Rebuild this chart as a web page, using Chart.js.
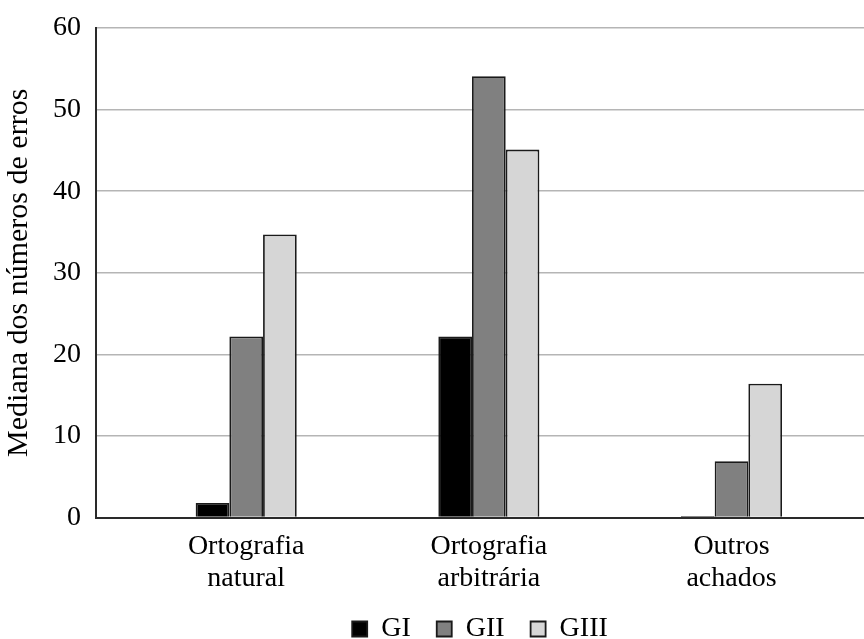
<!DOCTYPE html>
<html>
<head>
<meta charset="utf-8">
<script src="https://cdn.jsdelivr.net/npm/chart.js@4/dist/chart.umd.min.js"></script>
<style>
  html, body { margin: 0; padding: 0; background: #fff; }
  #wrap { width: 864px; height: 639px; }
</style>
</head>
<body>
<div id="wrap"><canvas id="c" width="864" height="639"></canvas></div>
<script>
const categories = [['Ortografia', 'natural'], ['Ortografia', 'arbitrária'], ['Outros', 'achados']];
const seriesNames = ['GI', 'GII', 'GIII'];
const gi = [1.8, 22.2, 0.2];
const gii = [22.2, 54.1, 6.9];
const giii = [34.7, 45.1, 16.4];
const yTicks = [0, 10, 20, 30, 40, 50, 60];
const yTitle = 'Mediana dos números de erros';

const FONT = '"Liberation Serif", "Times New Roman", serif';
const toPoints = arr => arr.map((v, i) => ({ x: i + 1, y: v }));
const fills = ['#000000', '#808080', '#d6d6d6'];

const datasets = [gi, gii, giii].map((vals, k) => ({
  label: seriesNames[k],
  data: toPoints(vals),
  backgroundColor: fills[k],
  borderColor: '#1a1a1a',
  borderWidth: 1.8,
  categoryPercentage: 0.4165,
  barPercentage: 1.0
}));

new Chart(document.getElementById('c'), {
  type: 'bar',
  data: { datasets },
  options: {
    responsive: false,
    animation: false,
    devicePixelRatio: 1,
    layout: { padding: { top: 28, left: 0, right: 0, bottom: 0 } },
    plugins: {
      tooltip: { enabled: false },
      legend: {
        position: 'bottom',
        fullSize: false,
        maxHeight: 50,
        labels: {
          color: '#000',
          font: { family: FONT, size: 28 },
          boxWidth: 15,
          boxHeight: 15,
          padding: 26
        }
      }
    },
    scales: {
      x: {
        type: 'linear',
        min: 0.381,
        max: 3.546,
        offset: false,
        afterBuildTicks: axis => { axis.ticks = categories.map((_, i) => ({ value: i + 1 })); },
        grid: { display: false, drawTicks: true, tickLength: 19.4 },
        border: { display: true, color: '#2a2a2a', width: 2 },
        ticks: {
          color: '#000',
          font: { family: FONT, size: 28, lineHeight: 1.143 },
          padding: -6,
          maxRotation: 0,
          autoSkip: false,
          callback: v => categories[Math.round(v) - 1]
        }
      },
      y: {
        min: 0,
        max: 60,
        afterBuildTicks: axis => { axis.ticks = yTicks.map(v => ({ value: v })); },
        grid: {
          drawTicks: true,
          tickLength: 15,
          tickColor: 'rgba(0,0,0,0)',
          color: c => (c.tick && c.tick.value === 0) ? '#2a2a2a' : '#b5b5b5',
          lineWidth: 1.5
        },
        border: { display: true, color: '#2a2a2a', width: 2 },
        ticks: {
          color: '#000',
          font: { family: FONT, size: 28 },
          padding: 0
        },
        title: {
          display: true,
          text: yTitle,
          color: '#000',
          font: { family: FONT, size: 30, lineHeight: 1.2 },
          padding: { top: 1.5, bottom: 15.5 }
        }
      }
    }
  }
});
</script>
</body>
</html>
